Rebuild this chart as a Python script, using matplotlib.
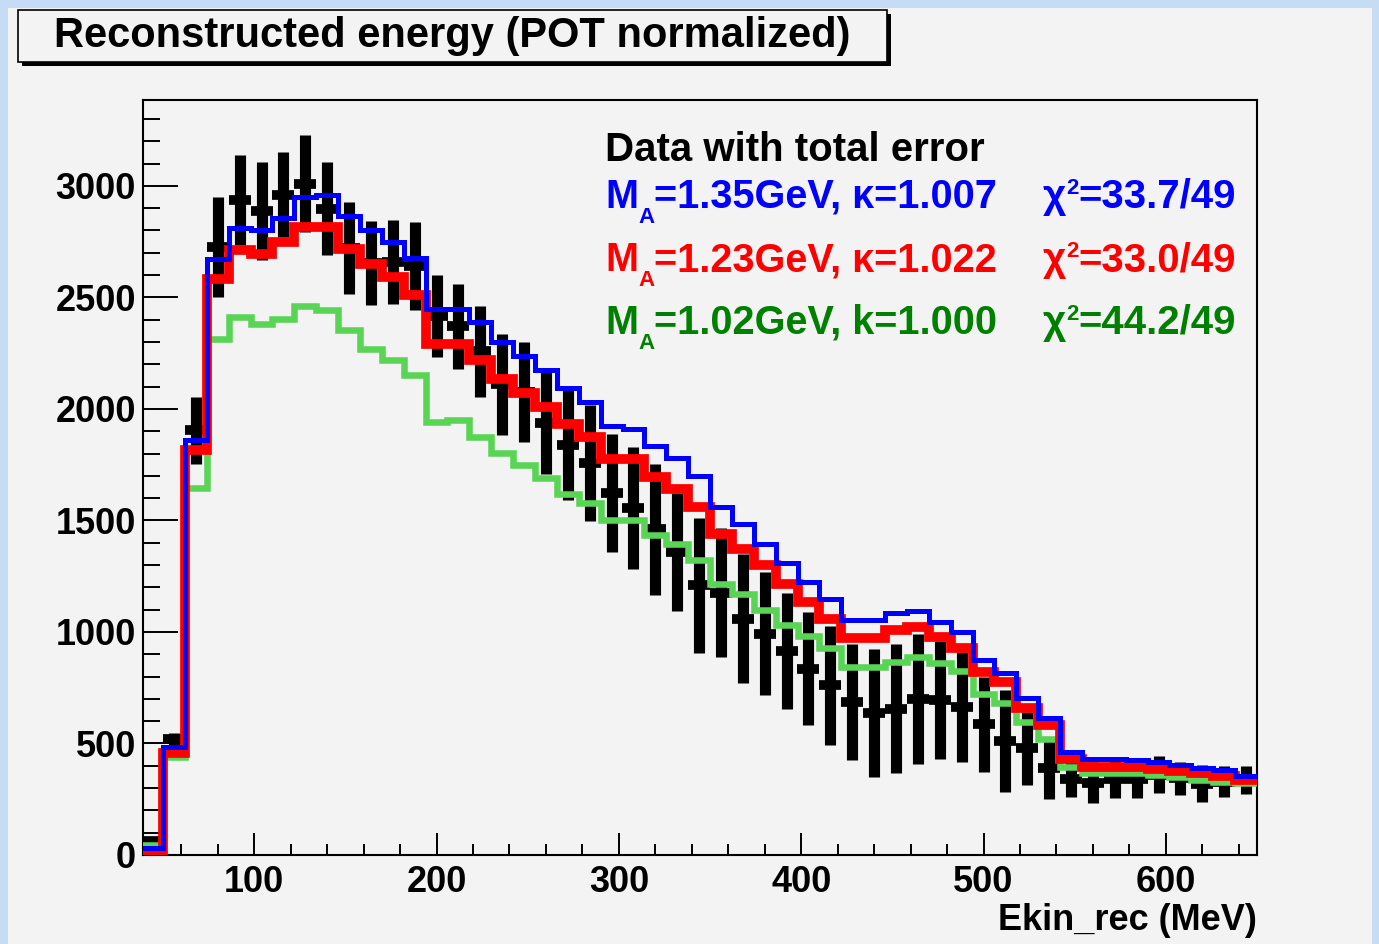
import numpy as np
import matplotlib.pyplot as plt
from matplotlib.patches import Rectangle
from matplotlib.ticker import MultipleLocator

plt.rcParams['font.family'] = ['Liberation Sans', 'DejaVu Sans']
plt.rcParams['font.weight'] = 'bold'

# Бины по 12 МэВ
edges = np.arange(38, 651, 12)
centers = 0.5 * (edges[:-1] + edges[1:])

# Данные с полной ошибкой
data = [65, 520, 1904, 2725, 2935, 2886, 2960, 3009, 2897, 2722,
        2654, 2658, 2640, 2416, 2371, 2258, 2110, 2076, 1938, 1837,
        1757, 1624, 1557, 1460, 1358, 1209, 1176, 1060, 993, 913,
        836, 760, 687, 635, 656, 700, 695, 665, 587, 512,
        478, 390, 340, 325, 340, 340, 360, 343, 320, 328, 337]
err = [10, 28, 149, 224, 202, 220, 190, 217, 209, 205,
       190, 187, 198, 183, 190, 205, 228, 224, 228, 246,
       259, 265, 273, 295, 263, 303, 288, 291, 276, 260,
       254, 267, 261, 287, 290, 293, 265, 246, 213, 228,
       164, 140, 80, 90, 85, 85, 84, 75, 82, 70, 62]

# MC: M_A = 1.35, 1.23, 1.02 GeV
mc_135 = [30, 484, 1860, 2670, 2813, 2800, 2858, 2948, 2957, 2863,
          2800, 2747, 2675, 2449, 2449, 2390, 2300, 2236, 2173, 2095,
          2031, 1922, 1912, 1834, 1780, 1698, 1561, 1486, 1396, 1307,
          1225, 1150, 1053, 1053, 1083, 1093, 1045, 1001, 874, 817,
          702, 612, 463, 429, 429, 426, 418, 403, 388, 381, 354]
mc_123 = [13, 457, 1815, 2584, 2711, 2696, 2748, 2815, 2815, 2718,
          2651, 2591, 2509, 2292, 2292, 2218, 2136, 2071, 2009, 1934,
          1874, 1777, 1777, 1695, 1643, 1561, 1441, 1374, 1299, 1217,
          1135, 1060, 971, 971, 1008, 1020, 978, 926, 821, 777,
          657, 582, 429, 396, 396, 396, 385, 376, 366, 354, 336]
mc_102 = [45, 439, 1644, 2315, 2412, 2382, 2404, 2460, 2442, 2352,
          2270, 2218, 2151, 1941, 1952, 1874, 1803, 1747, 1691, 1620,
          1576, 1501, 1501, 1434, 1393, 1322, 1217, 1172, 1098, 1031,
          981, 926, 844, 844, 866, 886, 862, 824, 724, 682,
          597, 518, 396, 366, 366, 366, 358, 351, 336, 329, 321]

W, H = 1379, 944


def fx(px):
    return px / W


def fy(py):
    return 1 - py / H


fig = plt.figure(figsize=(W / 100, H / 100), dpi=100, facecolor='#c6dcf5')
fig.add_artist(Rectangle((fx(8), 0), fx(1372 - 8), 1 - 8 / H, transform=fig.transFigure,
                         facecolor='#f3f3f3', edgecolor='none', zorder=-5))

ax = fig.add_axes([fx(143), fy(855), fx(1257 - 143), (855 - 100) / H])
ax.set_facecolor('#f3f3f3')

ax.errorbar(centers, data, yerr=err, fmt='_', color='black', ms=16, mew=7,
            elinewidth=8, capsize=0, zorder=2)
for vals, col, lw, z in [(mc_102, '#59d454', 4.7, 3), (mc_123, '#ff0000', 7, 4), (mc_135, '#0000ff', 3.6, 5)]:
    p = ax.stairs(vals, edges, baseline=None, color=col, lw=lw, zorder=z)
    p.set_joinstyle('miter')

ax.set_xlim(39, 650)
ax.set_ylim(0, 3385)
ax.xaxis.set_major_locator(MultipleLocator(100))
ax.xaxis.set_minor_locator(MultipleLocator(20))
ax.yaxis.set_major_locator(MultipleLocator(500))
ax.yaxis.set_minor_locator(MultipleLocator(100))
ax.tick_params(which='both', direction='in', top=False, right=False, width=1.4,
               labelsize=26, colors='black')
ax.tick_params(axis='x', which='major', length=16, pad=7)
ax.tick_params(axis='x', which='minor', length=8)
ax.tick_params(axis='y', which='major', length=25, pad=5)
ax.tick_params(axis='y', which='minor', length=12)
for s in ax.spines.values():
    s.set_linewidth(1.5)
ax.set_xlabel('Ekin_rec (MeV)', loc='right', fontsize=26, fontweight='bold', labelpad=2)

# Заголовок в рамке с тенью
fig.add_artist(Rectangle((fx(22), fy(66)), fx(869), 52 / H, transform=fig.transFigure,
                         facecolor='black', edgecolor='none', zorder=1))
fig.add_artist(Rectangle((fx(18), fy(62)), fx(869), 52 / H, transform=fig.transFigure,
                         facecolor='#f3f3f3', edgecolor='black', lw=1.2, zorder=2))
fig.text(fx(452), fy(36), 'Reconstructed energy (POT normalized)', ha='center', va='center',
         fontsize=30, zorder=3)

renderer = fig.canvas.get_renderer()


def put(x, yb, pieces, color):
    # кусочки текста подряд: (строка, размер, сдвиг по y в пикселях)
    for s, size, dy in pieces:
        t = fig.text(fx(x), fy(yb - dy), s, fontsize=size, va='baseline', color=color)
        x += t.get_window_extent(renderer).width


# Легенда
fig.text(fx(605), fy(161), 'Data with total error', fontsize=29, va='baseline', color='black')
rows = [('=1.35GeV, κ=1.007', '=33.7/49', '#0000ff', 208),
        ('=1.23GeV, κ=1.022', '=33.0/49', '#ff0000', 271),
        ('=1.02GeV, k=1.000', '=44.2/49', '#008000', 334)]
for left, right, col, yb in rows:
    put(605, yb, [('M', 28.5, 0), ('A', 16, -15), (left, 28.5, 0)], col)
    put(1043, yb, [('χ', 29, 0), ('2', 16, 14), (right, 29, 0)], col)

fig.savefig('out.png', dpi=100, facecolor=fig.get_facecolor())
